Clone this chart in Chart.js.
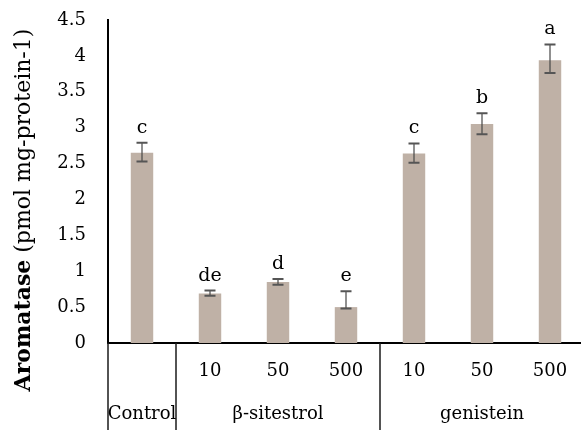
<!DOCTYPE html>
<html>
<head>
<meta charset="utf-8">
<script src="https://cdn.jsdelivr.net/npm/chart.js@4/dist/chart.umd.min.js"></script>
<style>
  html, body { margin: 0; padding: 0; background: #fff; }
  #wrap { width: 581px; height: 430px; overflow: hidden; }
  #wrap div { width: 590px; height: 430px; position: relative; }
</style>
</head>
<body>
<div id="wrap"><div><canvas id="chart"></canvas></div></div>
<script>
// categories (bottom row = groups, upper row = doses)
const doses = ['', '10', '50', '500', '10', '50', '500'];
const groups = ['Control', 'β-sitestrol', 'genistein'];
const groupOf = [0, 1, 1, 1, 2, 2, 2];

// aromatase activity (pmol mg-protein-1)
const means = [2.65, 0.69, 0.85, 0.50, 2.64, 3.05, 3.94];
const errUp = [0.14, 0.04, 0.04, 0.22, 0.14, 0.15, 0.22];
const errDown = [0.12, 0.03, 0.04, 0.02, 0.13, 0.14, 0.18];
const letters = ['c', 'de', 'd', 'e', 'c', 'b', 'a'];

const serif = '"DejaVu Serif", "Liberation Serif", serif';

const extras = {
    id: 'extras',
    afterDatasetsDraw(chart) {
        const ctx = chart.ctx;
        const x = chart.scales.x, y = chart.scales.y;
        ctx.save();
        means.forEach((m, i) => {
            const px = x.getPixelForValue(i);
            const top = y.getPixelForValue(m + errUp[i]);
            const bot = y.getPixelForValue(m - errDown[i]);
            // stem
            ctx.strokeStyle = 'rgba(70,70,70,0.6)';
            ctx.lineWidth = 2;
            ctx.beginPath();
            ctx.moveTo(px, top); ctx.lineTo(px, bot);
            ctx.stroke();
            // caps
            ctx.strokeStyle = '#555';
            ctx.beginPath();
            ctx.moveTo(px - 5.5, top); ctx.lineTo(px + 5.5, top);
            ctx.moveTo(px - 5.5, bot); ctx.lineTo(px + 5.5, bot);
            ctx.stroke();

            ctx.fillStyle = '#000';
            ctx.font = '19px ' + serif;
            ctx.textAlign = 'center';
            ctx.textBaseline = 'alphabetic';
            ctx.fillText(letters[i], px, top - 10);
        });
        ctx.restore();
    },
    afterDraw(chart) {
        const ctx = chart.ctx;
        const x = chart.scales.x;
        const area = chart.chartArea;
        const step = x.getPixelForValue(1) - x.getPixelForValue(0);
        const edge = i => x.getPixelForValue(i) - step / 2;
        ctx.save();

        // separators between groups
        ctx.strokeStyle = '#1a1a1a';
        ctx.lineWidth = 1.5;
        [0, 1, 4, 7].forEach(i => {
            ctx.beginPath();
            ctx.moveTo(edge(i), area.bottom);
            ctx.lineTo(edge(i), chart.height);
            ctx.stroke();
        });

        ctx.fillStyle = '#000';
        ctx.font = '18px ' + serif;
        ctx.textAlign = 'center';
        ctx.textBaseline = 'middle';
        doses.forEach((d, i) => ctx.fillText(d, x.getPixelForValue(i), area.bottom + 28));
        groups.forEach((g, gi) => {
            const idx = groupOf.map((v, i) => v === gi ? i : -1).filter(i => i >= 0);
            const cx = (x.getPixelForValue(idx[0]) + x.getPixelForValue(idx[idx.length - 1])) / 2;
            ctx.fillText(g, cx, area.bottom + 71);
        });

        // y axis title: bold word + normal unit
        const boldPart = 'Aromatase';
        const restPart = ' (pmol mg-protein-1)';
        ctx.font = 'bold 22px ' + serif;
        const w1 = ctx.measureText(boldPart).width;
        ctx.font = '22px ' + serif;
        const w2 = ctx.measureText(restPart).width;
        ctx.translate(24, 210);
        ctx.rotate(-Math.PI / 2);
        ctx.textAlign = 'left';
        const start = -(w1 + w2) / 2;
        ctx.font = 'bold 22px ' + serif;
        ctx.fillText(boldPart, start, 0);
        ctx.font = '22px ' + serif;
        ctx.fillText(restPart, start + w1, 0);
        ctx.restore();
    }
};

new Chart(document.getElementById('chart'), {
    type: 'bar',
    data: {
        labels: doses.map((d, i) => groups[groupOf[i]] + ' ' + d),
        datasets: [{
            data: means,
            backgroundColor: '#bfb1a6',
            barPercentage: 0.33,
            categoryPercentage: 1
        }]
    },
    options: {
        responsive: true,
        maintainAspectRatio: false,
        animation: false,
        layout: { padding: { top: 20, right: 6 } },
        plugins: { legend: { display: false }, tooltip: { enabled: false } },
        scales: {
            x: {
                grid: { display: false },
                border: { display: true, color: '#000', width: 2 },
                ticks: { display: false },
                afterFit: s => { s.height = 87; }
            },
            y: {
                min: 0,
                max: 4.5,
                grid: { display: false, drawTicks: false },
                border: { display: true, color: '#000', width: 2 },
                ticks: {
                    stepSize: 0.5,
                    color: '#000',
                    padding: 22,
                    font: { family: serif, size: 18 },
                    callback: v => String(v)
                },
                afterFit: s => { s.width = 108; s.paddingTop = 0; s.paddingBottom = 0; }
            }
        }
    },
    plugins: [extras]
});
</script>
</body>
</html>
